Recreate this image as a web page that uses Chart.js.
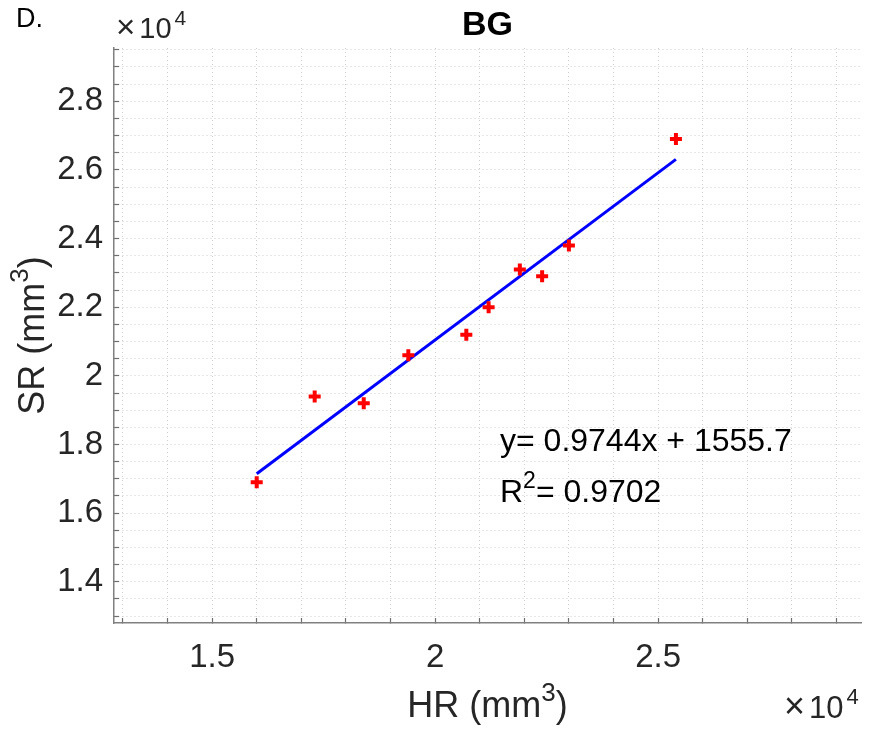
<!DOCTYPE html>
<html>
<head>
<meta charset="utf-8">
<script src="https://cdn.jsdelivr.net/npm/chart.js@4/dist/chart.umd.min.js"></script>
<style>
  html, body { margin: 0; padding: 0; background: #fff; }
  #wrap { width: 871px; height: 735px; }
</style>
</head>
<body>
<div id="wrap"><canvas id="bgChart" width="871" height="735"></canvas></div>
<script>
// data (mm3)
const hrValues = [16000, 17300, 18400, 19400, 20700, 21200, 21900, 22400, 23000, 25400];
const srValues = [16900, 19400, 19200, 20600, 21200, 22000, 23100, 22900, 23800, 26900];
// fitted line end points
const fitHR = [16000, 25400];
const fitSR = [17146, 26306];
// labelled ticks (values are shown x10^4)
const xTickValues = [15000, 20000, 25000];
const xTickLabels = ['1.5', '2', '2.5'];
const yTickValues = [14000, 16000, 18000, 20000, 22000, 24000, 26000, 28000];
const yTickLabels = ['1.4', '1.6', '1.8', '2', '2.2', '2.4', '2.6', '2.8'];

const FONT = "'Liberation Sans', Helvetica, Arial, sans-serif";

// minor grid positions
const xGrid = [];
for (let v = 13000; v <= 29000; v += 1000) xGrid.push(v);
const yGrid = [];
for (let v = 13000; v <= 29500; v += 500) yGrid.push(v);

function labelFor(values, labels, v) {
  const i = values.findIndex(t => Math.abs(t - v) < 1);
  return i >= 0 ? labels[i] : '';
}

// parts: {t, sup, scale, gap}
function richText(ctx, parts, x, y, size, align) {
  const fontOf = p => Math.round(size * (p.sup ? 0.72 : (p.scale || 1))) + 'px ' + FONT;
  let w = 0;
  parts.forEach(p => {
    ctx.font = fontOf(p);
    w += ctx.measureText(p.t).width + (p.gap || 0);
  });
  let cx = align === 'center' ? x - w / 2 : x;
  parts.forEach(p => {
    ctx.font = fontOf(p);
    ctx.fillText(p.t, cx, p.sup ? y - size * 0.45 : y);
    cx += ctx.measureText(p.t).width + (p.gap || 0);
  });
}

function drawExponent(ctx, x, y, size) {
  richText(ctx, [
    { t: '\u00d7', scale: 1.15, gap: 4 },
    { t: '10', gap: 3 },
    { t: '4', sup: true }
  ], x, y, size, 'left');
}

const textPlugin = {
  id: 'matlabText',
  afterDraw(chart) {
    const ctx = chart.ctx;
    const area = chart.chartArea;
    const midX = (area.left + area.right) / 2;
    const midY = (area.top + area.bottom) / 2;
    ctx.save();
    ctx.fillStyle = '#000';
    ctx.textBaseline = 'alphabetic';
    ctx.textAlign = 'left';

    ctx.font = '27px ' + FONT;
    ctx.fillText('D.', 16, 27);

    ctx.font = 'bold 34px ' + FONT;
    ctx.textAlign = 'center';
    ctx.fillText('BG', midX, 35);
    ctx.textAlign = 'left';

    ctx.fillStyle = '#262626';
    drawExponent(ctx, 116, 38, 29);
    drawExponent(ctx, 784, 718, 31);

    richText(ctx, [{ t: 'HR (mm' }, { t: '3', sup: true }, { t: ')' }], midX, 717, 36, 'center');

    ctx.save();
    ctx.translate(44, midY);
    ctx.rotate(-Math.PI / 2);
    richText(ctx, [{ t: 'SR (mm' }, { t: '3', sup: true }, { t: ')' }], 0, 0, 36, 'center');
    ctx.restore();

    ctx.fillStyle = '#000';
    richText(ctx, [{ t: 'y= 0.9744x + 1555.7' }], 500, 451, 32, 'left');
    richText(ctx, [{ t: 'R' }, { t: '2', sup: true }, { t: '= 0.9702' }], 500, 502, 32, 'left');
    ctx.restore();
  }
};

const axisCommon = {
  type: 'linear',
  bounds: 'data',
  min: 12800,
  max: 29550,
  grid: {
    color: '#cfcfcf',
    lineWidth: 1,
    tickLength: -5,
    tickColor: '#6e6e6e',
    tickWidth: 1.2
  },
  border: { display: true, color: '#808080', width: 1.5, dash: [1, 3] }
};

new Chart(document.getElementById('bgChart'), {
  type: 'scatter',
  data: {
    datasets: [
      {
        label: 'fit',
        data: fitHR.map((x, i) => ({ x: x, y: fitSR[i] })),
        showLine: true,
        borderColor: '#0000ff',
        borderWidth: 3,
        pointRadius: 0,
        order: 2
      },
      {
        label: 'BG',
        data: hrValues.map((x, i) => ({ x: x, y: srValues[i] })),
        pointStyle: 'cross',
        pointRadius: 6,
        pointBorderWidth: 4,
        borderColor: '#ff0000',
        backgroundColor: '#ff0000',
        order: 1
      }
    ]
  },
  options: {
    responsive: false,
    animation: false,
    layout: { padding: { left: 0, right: 6, top: 48, bottom: 0 } },
    plugins: {
      legend: { display: false },
      tooltip: { enabled: false }
    },
    scales: {
      x: Object.assign({}, axisCommon, {
        position: 'bottom',
        afterBuildTicks(scale) { scale.ticks = xGrid.map(v => ({ value: v })); },
        afterFit(scale) { scale.height = 112; },
        ticks: {
          display: true,
          autoSkip: false,
          maxRotation: 0,
          minRotation: 0,
          padding: 20,
          color: '#262626',
          font: { family: FONT, size: 33 },
          callback(v) { return labelFor(xTickValues, xTickLabels, v); }
        }
      }),
      y: Object.assign({}, axisCommon, {
        position: 'left',
        afterBuildTicks(scale) { scale.ticks = yGrid.map(v => ({ value: v })); },
        afterFit(scale) { scale.width = 114; },
        ticks: {
          display: true,
          autoSkip: false,
          padding: 16,
          color: '#262626',
          font: { family: FONT, size: 33 },
          callback(v) { return labelFor(yTickValues, yTickLabels, v); }
        }
      })
    }
  },
  plugins: [textPlugin]
});
</script>
</body>
</html>
